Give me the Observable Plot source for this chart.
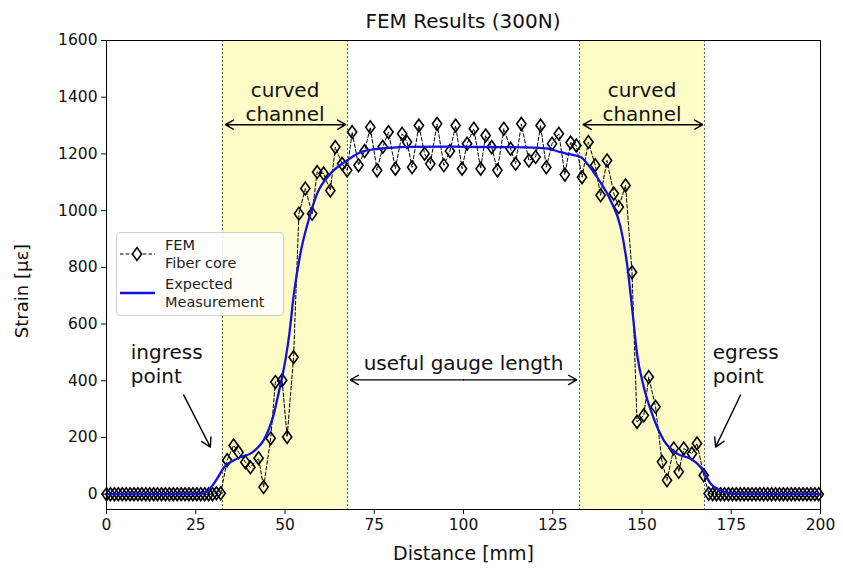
<!DOCTYPE html>
<html>
<head>
<meta charset="utf-8">
<script src="https://cdn.jsdelivr.net/npm/d3@7"></script>
<script src="https://cdn.jsdelivr.net/npm/@observablehq/plot@0.6"></script>
<style>
  body { margin: 0; background: #fff; font-family: "DejaVu Sans", sans-serif; }
  #wrap { position: relative; width: 843px; height: 574px; }
  #title { position: absolute; top: 9px; left: 106px; width: 714px; text-align: center; font-size: 20px; line-height: 24px; color: #111; }
  #ylabel { position: absolute; left: 21px; top: 291px; transform: translate(-50%, -50%) rotate(-90deg); font-size: 18px; white-space: nowrap; color: #111; }
  #legend { position: absolute; left: 116px; top: 232px; width: 168px; height: 84px; box-sizing: border-box;
            border: 1px solid #d0d0d0; border-radius: 4px; background: rgba(255,255,255,0.85); font-size: 14.5px; color: #222; }
  #legend .lbl { position: absolute; left: 48px; line-height: 18px; }
  #legend svg { position: absolute; left: 0; top: 0; }
</style>
</head>
<body>
<div id="wrap">
  <div id="chart"></div>
  <div id="title">FEM Results (300N)</div>
  <div id="ylabel">Strain [µε]</div>
  <div id="legend">
    <svg width="168" height="84"></svg>
    <div class="lbl" style="top:3px">FEM<br>Fiber core</div>
    <div class="lbl" style="top:42px">Expected<br>Measurement</div>
  </div>
</div>
<script>
// ---- data ----
const femX = [
  0, 1.1, 2.2, 3.3, 4.4, 5.5, 6.6, 7.7, 8.8, 9.9, 11, 12.1, 13.2, 14.3, 15.4, 16.5, 17.6, 18.7, 19.8, 20.9,
  22, 23.1, 24.2, 25.3, 26.4, 27.5, 28.6, 29.7, 30.8, 32,
  33.8, 35.6, 37, 38.9, 40.3, 42.6, 44, 46, 47.3, 49.2, 50.6, 52.4, 53.9, 55.7, 57.6, 59, 60.8, 62.7, 64.1, 66, 67.4,
  68.8, 70.6, 72.3, 73.9, 75.8, 77.4, 79, 80.9, 82.8, 84.2, 85.6, 87.5, 89.1, 90.7, 92.6, 94.5, 96.2, 97.8, 99.6,
  101, 102.9, 104.8, 106.2, 107.9, 109.5, 111.3, 113.2, 114.6, 116.2, 118.3, 120.2, 121.6, 123.2, 124.8, 126.7,
  128.4, 130, 131.6, 133.2, 135, 136.9, 138.4, 140.2, 142.1, 143.5, 145.4, 147.2, 148.6, 150.5, 151.9, 153.8,
  155.6, 157, 158.9, 160.3, 161.7, 164, 165.4, 167.3, 168.7,
  169.8, 170.9, 172, 173.1, 174.2, 175.3, 176.4, 177.5, 178.6, 179.7, 180.8, 181.9, 183, 184.1, 185.2, 186.3,
  187.4, 188.5, 189.6, 190.7, 191.8, 192.9, 194, 195.1, 196.2, 197.3, 198.4, 199.5
];
const femY = [
  0, 0, 0, 0, 0, 0, 0, 0, 0, 0, 0, 0, 0, 0, 0, 0, 0, 0, 0, 0,
  0, 0, 0, 0, 0, 0, 0, 0, 3, 3,
  120, 172, 148, 113, 95, 127, 25, 197, 396, 402, 202, 483, 989, 1078, 989, 1136, 1131, 1071, 1224, 1165, 1142,
  1277, 1160, 1210, 1294, 1142, 1225, 1277, 1148, 1271, 1242, 1153, 1300, 1201, 1165, 1306, 1160, 1210, 1300, 1148,
  1236, 1289, 1148, 1265, 1224, 1142, 1289, 1218, 1165, 1306, 1177, 1189, 1300, 1153, 1236, 1271,
  1127, 1240, 1230, 1118, 1242, 1160, 1054, 1177, 1060, 1013, 1089, 783, 255, 278, 413, 308,
  114, 49, 161, 79, 161, 143, 179, 67, 2,
  0, 0, 0, 0, 0, 0, 0, 0, 0, 0, 0, 0, 0, 0, 0, 0,
  0, 0, 0, 0, 0, 0, 0, 0, 0, 0, 0, 0
];
const expX = [0, 10, 20, 25, 27, 29, 31, 33, 35.7, 38, 40.3, 42, 44, 45.5, 46.9, 48, 49.2, 50.2, 51.1, 52.5, 54.3,
  56.6, 59, 62.7, 67.4, 71.1, 76, 85, 95, 100, 110, 120, 124, 127.2, 130, 132.8, 135, 137.4, 141.2, 144, 145.8,
  147.2, 148.6, 150.5, 152.8, 156.1, 159.8, 163.6, 166.4, 169.2, 172.9, 176, 185, 200];
const expY = [0, 0, 0, 0, 3, 20, 55, 96, 120, 133, 143, 160, 190, 230, 284, 345, 413, 480, 554, 707, 848,
  966, 1060, 1130, 1177, 1206, 1218, 1225, 1226, 1225, 1224, 1222, 1218, 1206, 1198, 1189, 1160, 1118, 1036, 942, 813,
  660, 496, 378, 284, 190, 143, 125, 96, 38, 8, 1, 0, 0];

const regionStart = [32.5, 132.5];
const regionEnd = [67.5, 167.5];
const xTicks = [0, 25, 50, 75, 100, 125, 150, 175, 200];
const yTicks = [0, 200, 400, 600, 800, 1000, 1200, 1400, 1600];

// centred annotations
const midText = ["curved\nchannel", "curved\nchannel", "useful gauge length"];
const midX = [50, 150, 100];
const midY = [1385, 1385, 466];
// left-aligned annotations
const startText = ["ingress\npoint", "egress\npoint"];
const startX = [6.8, 169.8];
const startY = [463, 463];

// double-headed arrows
const dblX1 = [33.3, 133.5, 68.3];
const dblX2 = [67.0, 167.0, 131.7];
const dblY = [1303, 1303, 403];

// single arrows
const arrX1 = [21.6, 177.6];
const arrY1 = [350, 350];
const arrX2 = [29.1, 170.6];
const arrY2 = [166, 166];

// ---- tables ----
const fem = femX.map((x, i) => ({x, y: femY[i]}));
const expd = expX.map((x, i) => ({x, y: expY[i]}));
const regions = regionStart.map((s, i) => ({x1: s, x2: regionEnd[i]}));
const edges = regionStart.concat(regionEnd);
const midLabels = midText.map((t, i) => ({t, x: midX[i], y: midY[i]}));
const startLabels = startText.map((t, i) => ({t, x: startX[i], y: startY[i]}));
// each double arrow drawn as two arrows from its midpoint outwards
const dblHalves = dblX1.flatMap((x1, i) => {
  const m = (x1 + dblX2[i]) / 2;
  return [{x1: m, x2: x1, y: dblY[i]}, {x1: m, x2: dblX2[i], y: dblY[i]}];
});
const arr = arrX1.map((x1, i) => ({x1, y1: arrY1[i], x2: arrX2[i], y2: arrY2[i]}));

const thinDiamond = {
  draw(ctx, size) {
    const k = Math.sqrt(size / 63.6);
    const h = 6.4 * k, w = 4.6 * k;
    ctx.moveTo(0, -h); ctx.lineTo(w, 0); ctx.lineTo(0, h); ctx.lineTo(-w, 0); ctx.closePath();
  }
};

const chart = Plot.plot({
  width: 843,
  height: 574,
  marginTop: 40,
  marginBottom: 65,
  marginLeft: 106,
  marginRight: 23,
  style: {fontFamily: "DejaVu Sans, sans-serif", fontSize: "15px", color: "#111", background: "white"},
  x: {domain: [0, 200]},
  y: {domain: [-54, 1600]},
  marks: [
    Plot.rect(regions, {x1: "x1", x2: "x2", fill: "#fdfbc6"}),
    Plot.ruleX(edges, {stroke: "#333", strokeWidth: 0.8, strokeDasharray: "2,2"}),
    Plot.line(fem, {x: "x", y: "y", stroke: "black", strokeWidth: 1, strokeDasharray: "3.5,2.2"}),
    Plot.dot(fem, {x: "x", y: "y", symbol: thinDiamond, r: 4.5, stroke: "black", strokeWidth: 1.6, fill: "none"}),
    Plot.line(expd, {x: "x", y: "y", stroke: "#1010e0", strokeWidth: 2.3, curve: "monotone-x"}),
    Plot.text(midLabels, {x: "x", y: "y", text: "t", textAnchor: "middle", fontSize: 20, lineHeight: 1.2, fill: "#111"}),
    Plot.text(startLabels, {x: "x", y: "y", text: "t", textAnchor: "start", fontSize: 20, lineHeight: 1.2, fill: "#111"}),
    Plot.arrow(dblHalves, {x1: "x1", x2: "x2", y1: "y", y2: "y", stroke: "black", strokeWidth: 1.4, headLength: 10}),
    Plot.arrow(arr, {x1: "x1", y1: "y1", x2: "x2", y2: "y2", stroke: "black", strokeWidth: 1.4, headLength: 11}),
    Plot.frame({stroke: "black", strokeWidth: 1}),
    Plot.axisX({ticks: xTicks, tickSize: 5, tickPadding: 4, fontSize: 15.5, label: null}),
    Plot.axisY({ticks: yTicks, tickSize: 5, tickPadding: 4, fontSize: 15.5, label: null, tickFormat: d => String(d)}),
    Plot.text(["Distance [mm]"], {frameAnchor: "bottom", dy: 50, fontSize: 19, fill: "#111"})
  ]
});
document.getElementById("chart").appendChild(chart);

// legend swatches
const lg = d3.select("#legend svg");
lg.append("line").attr("x1", 3).attr("x2", 38).attr("y1", 21).attr("y2", 21)
  .attr("stroke", "black").attr("stroke-width", 1).attr("stroke-dasharray", "3.5,2.2");
lg.append("path").attr("d", "M20,14.6L24.6,21L20,27.4L15.4,21Z").attr("fill", "white")
  .attr("stroke", "black").attr("stroke-width", 1.6);
lg.append("line").attr("x1", 3).attr("x2", 38).attr("y1", 60).attr("y2", 60)
  .attr("stroke", "#1010e0").attr("stroke-width", 2.3);
</script>
</body>
</html>
